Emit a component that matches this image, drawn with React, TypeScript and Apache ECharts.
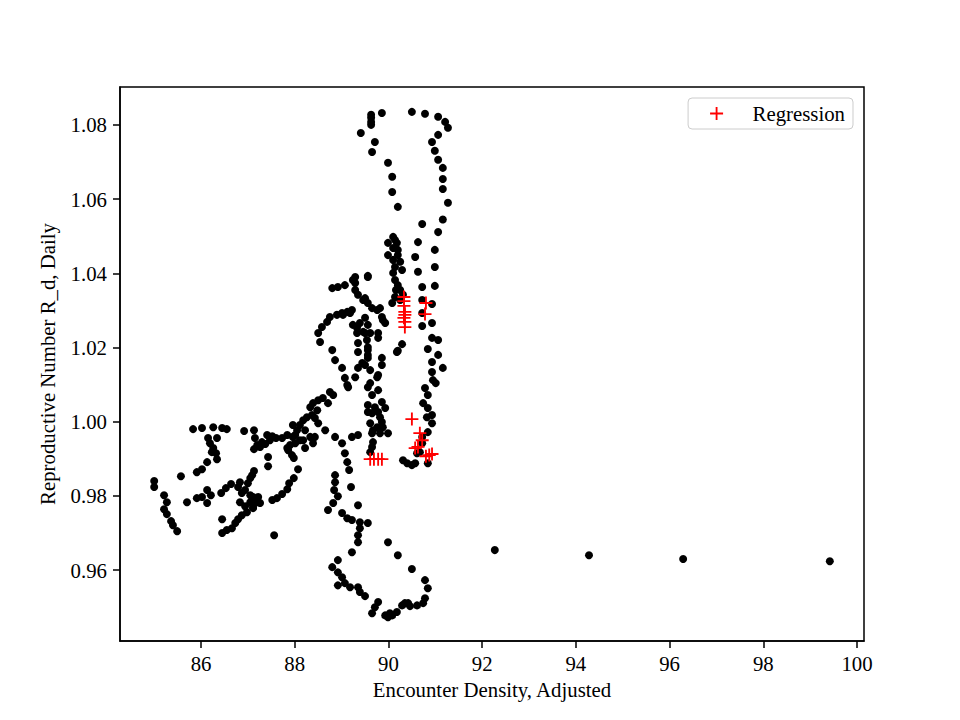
import React, { useEffect, useRef } from "react";
import * as echarts from "echarts";

const xTicks = [86, 88, 90, 92, 94, 96, 98, 100];
const yTicks = [0.96, 0.98, 1.0, 1.02, 1.04, 1.06, 1.08];

const observed: number[][] = [
  // left cluster
  [85.00,0.9840],[85.00,0.9824],[85.21,0.9802],[85.27,0.9783],[85.21,0.9764],[85.27,0.9751],[85.36,0.9732],[85.40,0.9721],[85.49,0.9705],[85.57,0.9853],[85.70,0.9783],[85.91,0.9864],[86.02,0.9872],[86.13,0.9891],[85.91,0.9794],[86.02,0.9797],[86.13,0.9816],[86.21,0.9802],[86.13,0.9781],
  [85.83,0.9980],[86.02,0.9983],[86.26,0.9985],[86.45,0.9983],[86.55,0.9980],[86.15,0.9956],[86.34,0.9956],[86.19,0.9942],[86.26,0.9929],[86.23,0.9918],[86.32,0.9915],[86.34,0.9899],
  [86.43,0.9808],[86.53,0.9821],[86.64,0.9832],[86.83,0.9837],[87.05,0.9848],[87.13,0.9867],
  [86.92,0.9975],[87.13,0.9977],[87.15,0.9956],[87.20,0.9937],[87.13,0.9926],[87.26,0.9932],[87.37,0.9940],[87.41,0.9964],[87.52,0.9961],[87.60,0.9956],[87.73,0.9956],[87.43,0.9905],[87.43,0.9880],
  [86.79,0.9824],[86.87,0.9808],[86.94,0.9816],[87.05,0.9802],[87.11,0.9797],[87.22,0.9797],[87.20,0.9783],[87.05,0.9783],[86.83,0.9783],[86.94,0.9772],[87.11,0.9770],[87.26,0.9781],
  [86.45,0.9737],[86.45,0.9700],[86.55,0.9708],[86.66,0.9713],[86.73,0.9727],[86.79,0.9737],[86.87,0.9748],[86.98,0.9756],[87.11,0.9767],
  [87.56,0.9694],
  [87.52,0.9789],[87.62,0.9794],[87.73,0.9805],[87.84,0.9818],[87.88,0.9834],[87.98,0.9848],[88.07,0.9872],
  [87.84,0.9929],[87.94,0.9910],[87.98,0.9902],[88.22,0.9929],[87.96,0.9959],[88.05,0.9977],[88.11,0.9991],[88.18,1.0004],[88.26,1.0012],[87.96,0.9991],[88.01,0.9964],[87.86,0.9923],
  [88.33,1.0039],[88.39,1.0050],[88.50,1.0058],[88.60,1.0064],[88.71,1.0050],[88.75,1.0080],
  [88.43,1.0010],[88.50,0.9996],[88.65,0.9977],[88.22,0.9977],[88.33,0.9959],[88.43,0.9959],[88.11,0.9950],[88.86,0.9959],
  [88.86,0.9856],[88.86,0.9837],[88.84,0.9816],[88.92,0.9799],[88.82,0.9781],[88.71,0.9762],
  [87.30,0.9945],[87.47,0.9950],[87.09,0.9856],[87.00,0.9834],[87.90,0.9937],[87.84,0.9964],[88.01,0.9942],[88.18,0.9950],[88.39,0.9942],[88.37,1.0018],[88.48,1.0031],
  // upper loop
  [88.80,1.0360],[88.92,1.0363],[89.07,1.0368],[89.24,1.0382],[89.29,1.0374],[89.56,1.0390],[89.29,1.0355],[89.35,1.0342],[89.50,1.0333],[89.56,1.0320],[89.65,1.0306],[89.76,1.0301],[89.86,1.0282],[89.88,1.0274],[89.93,1.0266],[89.82,1.0306],
  [89.22,1.0301],[89.12,1.0296],[89.01,1.0293],[88.90,1.0288],[88.75,1.0282],[88.69,1.0269],[88.58,1.0255],[88.50,1.0239],[88.54,1.0215],
  [89.33,1.0253],[89.50,1.0239],[89.54,1.0220],[89.35,1.0212],[89.56,1.0201],[89.35,1.0188],[89.56,1.0180],[89.44,1.0158],[89.35,1.0145],
  [88.80,1.0193],[88.86,1.0166],[89.01,1.0145],[89.07,1.0118],[89.14,1.0093],[89.29,1.0120],[90.18,1.0188],[89.86,1.0172],[89.86,1.0153],
  [89.61,1.0139],[89.78,1.0126],[89.61,1.0104],[89.78,1.0085],[89.65,1.0072],[89.56,1.0045],[89.71,1.0039],[89.86,1.0053],[89.93,1.0037],[89.65,1.0023],[89.82,1.0012],
  [89.61,0.9996],[89.76,0.9985],[89.88,0.9985],[89.99,0.9969],[89.82,0.9969],[89.65,0.9969],[89.67,0.9945],[89.65,0.9932],[89.35,0.9964],[88.82,1.0072],
  [89.18,1.0293],[89.03,1.0288],[89.24,1.0261],[89.33,1.0239],[89.50,1.0280],[89.56,1.0261],[89.61,1.0239],[89.56,1.0193],[89.56,1.0172],[89.50,1.0153],[89.78,1.0239],[89.78,1.0226],
  [89.12,1.0099],[89.76,1.0120],[89.56,1.0093],[89.56,1.0026],[89.78,1.0026],[89.86,0.9999],[89.67,0.9977],[89.61,0.9918],[89.01,0.9942],[89.07,0.9915],[89.12,0.9891],
  [90.10,1.0401],[90.14,1.0336],[89.46,1.0328],[89.39,1.0266],[89.46,1.0242],[89.22,0.9959],[89.16,0.9870],[89.20,0.9824],
  // left tower column
  [89.63,1.0827],[89.63,1.0819],[89.63,1.0808],[89.63,1.0800],[89.86,1.0832],[89.41,1.0778],[89.71,1.0754],[89.65,1.0727],[89.99,1.0698],[90.08,1.0660],[90.08,1.0619],[90.20,1.0579],
  [90.10,1.0498],[89.99,1.0482],[90.18,1.0482],[90.10,1.0468],[89.99,1.0449],[90.20,1.0449],[90.10,1.0436],[90.14,1.0417],[89.29,1.0390],[89.56,1.0393],
  [90.14,1.0490],[90.20,1.0463],[90.25,1.0431],[90.14,1.0382],[90.20,1.0368],[90.16,1.0355],[90.25,1.0328],[90.08,1.0320],[90.29,1.0409],[90.25,1.0355],[90.31,1.0342],
  // right tower column
  [90.50,1.0835],[90.78,1.0830],[91.06,1.0822],[91.21,1.0808],[91.27,1.0792],[91.06,1.0773],[90.93,1.0754],[90.99,1.0730],[91.06,1.0706],[91.16,1.0684],[91.16,1.0654],[91.16,1.0627],[91.27,1.0590],[91.16,1.0545],[91.06,1.0511],
  [90.72,1.0533],[90.63,1.0484],[90.99,1.0463],[90.57,1.0444],[90.99,1.0417],[90.63,1.0404],[90.99,1.0366],[90.72,1.0363],[90.72,1.0328],[90.93,1.0317],[90.72,1.0293],[90.93,1.0266],[90.72,1.0258],
  [90.93,1.0226],[91.06,1.0220],[90.84,1.0196],[91.06,1.0180],[90.93,1.0161],[91.16,1.0145],[90.93,1.0134],[90.95,1.0112],[91.01,1.0104],[90.78,1.0091],[90.84,1.0072],[90.74,1.0050],[90.84,1.0037],[90.93,1.0018],[90.82,1.0012],[90.93,0.9996],
  [90.84,0.9972],[90.72,0.9959],[90.72,0.9942],[90.67,0.9918],[90.84,0.9888],[90.31,0.9896],[90.40,0.9888],[90.50,0.9883],[90.57,0.9888],[90.61,0.9915],[90.29,1.0209],[90.20,1.0191],
  // lower loop
  [89.35,0.9775],[89.01,0.9754],[89.12,0.9740],[89.22,0.9735],[89.39,0.9729],[89.56,0.9727],[89.39,0.9713],[89.35,0.9694],[89.35,0.9675],[89.22,0.9648],[88.92,0.9627],[88.80,0.9608],[88.92,0.9594],[89.01,0.9581],
  [88.92,0.9559],[89.07,0.9565],[89.18,0.9554],[89.35,0.9554],[89.39,0.9541],[89.50,0.9530],[89.78,0.9514],[89.71,0.9500],[89.65,0.9484],[89.93,0.9478],[89.99,0.9473],[90.08,0.9478],[90.18,0.9487],
  [90.29,0.9505],[90.35,0.9511],[90.46,0.9503],[90.61,0.9505],[90.74,0.9511],[90.78,0.9524],[90.84,0.9551],[90.78,0.9573],[90.50,0.9603],[90.20,0.9640],[89.99,0.9675],[90.03,0.9484],[90.42,0.9511],
  // far right
  [92.27,0.9654],[94.28,0.9640],[96.29,0.9630],[99.42,0.9624],
];

const regression: number[][] = [
  [90.33,1.0336],[90.33,1.0325],[90.33,1.0312],[90.35,1.0296],[90.35,1.0288],[90.33,1.0280],[90.35,1.0269],[90.35,1.0255],
  [90.80,1.0320],[90.78,1.0290],[90.50,1.0007],[90.67,0.9969],[90.72,0.9950],[90.57,0.9929],[90.63,0.9932],[90.80,0.9907],[90.87,0.9910],[90.93,0.9913],
  [89.61,0.9899],[89.69,0.9899],[89.78,0.9899],[89.86,0.9899],
];

const FONT = "'Liberation Serif', 'DejaVu Serif', serif";
const FS = 20.8;
const PLUS = "path://M-0.85,-6H0.85V-0.85H6V0.85H0.85V6H-0.85V0.85H-6V-0.85H-0.85Z";

export default function App() {
  const ref = useRef<HTMLDivElement>(null);
  useEffect(() => {
    if (!ref.current) return;
    const chart = echarts.init(ref.current, null, { renderer: "svg" });
    const axisCommon = {
      type: "value" as const,
      splitLine: { show: false },
      axisLine: { show: true, onZero: false, lineStyle: { color: "#000", width: 1.5 } },
      axisTick: { show: true, inside: false, length: 7, lineStyle: { color: "#000", width: 1.5 } },
      nameLocation: "middle" as const,
      nameTextStyle: { fontFamily: FONT, fontSize: FS, color: "#000" },
    };
    chart.setOption({
      animation: false,
      backgroundColor: "#fff",
      grid: { left: 120, right: 96, top: 87, bottom: 79, show: true, borderColor: "#000", borderWidth: 1.5, backgroundColor: "transparent" },
      legend: {
        data: ["Regression"],
        right: 107,
        top: 98,
        padding: [5, 8, 5, 22],
        itemWidth: 62,
        itemHeight: 13,
        borderColor: "#cccccc",
        borderWidth: 1,
        borderRadius: 4,
        backgroundColor: "rgba(255,255,255,0.8)",
        textStyle: { fontFamily: FONT, fontSize: FS, color: "#000" },
      },
      xAxis: {
        ...axisCommon,
        min: 84.27,
        max: 100.15,
        name: "Encounter Density, Adjusted",
        nameGap: 38,
        axisTick: { ...axisCommon.axisTick, customValues: xTicks },
        axisLabel: { customValues: xTicks, margin: 12, fontFamily: FONT, fontSize: FS, color: "#000", formatter: (v: number) => String(Math.round(v)) },
      },
      yAxis: {
        ...axisCommon,
        min: 0.9409,
        max: 1.0902,
        name: "Reproductive Number R_d, Daily",
        nameGap: 62,
        axisTick: { ...axisCommon.axisTick, customValues: yTicks },
        axisLabel: { customValues: yTicks, margin: 13, fontFamily: FONT, fontSize: FS, color: "#000", formatter: (v: number) => v.toFixed(2) },
      },
      series: [
        {
          name: "Observed",
          type: "scatter",
          data: observed,
          symbol: "circle",
          symbolSize: 8,
          itemStyle: { color: "#000", opacity: 1 },
        },
        {
          name: "Regression",
          type: "scatter",
          data: regression,
          symbol: PLUS,
          symbolSize: 13,
          itemStyle: { color: "#ff0000", opacity: 1 },
        },
      ],
    });
    return () => chart.dispose();
  }, []);
  return <div ref={ref} style={{ position: "fixed", left: 0, top: 0, width: 960, height: 720, background: "#fff" }} />;
}
